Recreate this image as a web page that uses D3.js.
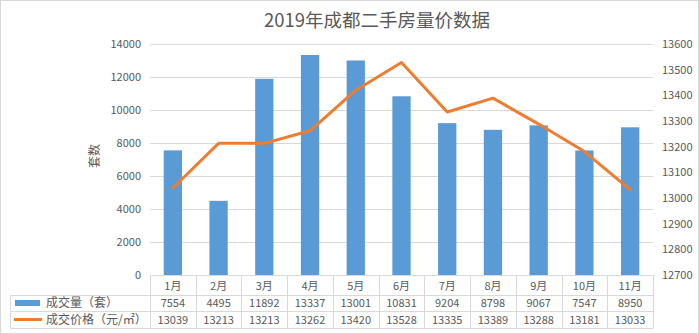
<!DOCTYPE html>
<html>
<head>
<meta charset="utf-8">
<script src="https://cdn.jsdelivr.net/npm/d3@7"></script>
<style>
  html, body { margin: 0; padding: 0; background: #fff; }
  svg { display: block; font-family: "Noto Sans CJK SC", "Noto Sans", sans-serif; }
</style>
</head>
<body>
<svg id="chart" width="699" height="334"></svg>
<script>
const months = ["1月","2月","3月","4月","5月","6月","7月","8月","9月","10月","11月"];
const volume = [7554, 4495, 11892, 13337, 13001, 10831, 9204, 8798, 9067, 7547, 8950];
const price = [13039, 13213, 13213, 13262, 13420, 13528, 13335, 13389, 13288, 13181, 13033];
const leftTicks = [0, 2000, 4000, 6000, 8000, 10000, 12000, 14000];
const rightTicks = [12700, 12800, 12900, 13000, 13100, 13200, 13300, 13400, 13500, 13600];
const seriesNames = ["成交量（套）", "成交价格（元/㎡）"];

const svg = d3.select("#chart");
const W = 699, H = 334;
const plot = { left: 150, right: 653, top: 44, bottom: 275 };
const textColor = "#595959";
const gridColor = "#d9d9d9";
const blue = "#5B9BD5", orange = "#ED7D31";

// outer frame
svg.append("rect").attr("x", 0.5).attr("y", 0.5).attr("width", W - 1).attr("height", H - 1)
  .attr("fill", "#fff").attr("stroke", "#d9d9d9");

const x = d3.scaleBand().domain(months).range([plot.left, plot.right]).paddingInner(0.6).paddingOuter(0.3);
const xCat = d3.scaleBand().domain(months).range([plot.left, plot.right]);
const yL = d3.scaleLinear().domain([0, 14000]).range([plot.bottom, plot.top]);
const yR = d3.scaleLinear().domain([12700, 13600]).range([plot.bottom, plot.top]);

// title
svg.append("text").attr("x", 377).attr("y", 27).attr("text-anchor", "middle")
  .attr("font-size", 18.5).attr("fill", textColor).text("2019年成都二手房量价数据");

// gridlines
svg.append("g").selectAll("line").data(leftTicks.slice(1)).join("line")
  .attr("x1", plot.left).attr("x2", plot.right)
  .attr("y1", d => Math.round(yL(d)) + 0.5).attr("y2", d => Math.round(yL(d)) + 0.5)
  .attr("stroke", gridColor);

// left axis
const gL = svg.append("g").attr("transform", `translate(${plot.left - 9},0)`)
  .call(d3.axisLeft(yL).tickValues(leftTicks).tickSize(0).tickPadding(0).tickFormat(d3.format("d")));
gL.select(".domain").remove();
gL.selectAll("text").attr("fill", textColor).attr("font-size", 11).attr("font-family", "'Noto Sans CJK SC', sans-serif");

// right axis
const gR = svg.append("g").attr("transform", `translate(${plot.right + 9},0)`)
  .call(d3.axisRight(yR).tickValues(rightTicks).tickSize(0).tickPadding(0).tickFormat(d3.format("d")));
gR.select(".domain").remove();
gR.selectAll("text").attr("fill", textColor).attr("font-size", 11).attr("font-family", "'Noto Sans CJK SC', sans-serif");

// left axis title
svg.append("text").attr("transform", "translate(99,156) rotate(-90)")
  .attr("text-anchor", "middle").attr("font-size", 12).attr("fill", textColor).text("套数");

// bars
svg.append("g").selectAll("rect").data(months).join("rect")
  .attr("x", d => x(d)).attr("width", x.bandwidth())
  .attr("y", (d, i) => yL(volume[i])).attr("height", (d, i) => plot.bottom - yL(volume[i]))
  .attr("fill", blue);

// price line
const line = d3.line().x((d, i) => xCat(months[i]) + xCat.bandwidth() / 2).y(d => yR(d));
svg.append("path").datum(price).attr("d", line)
  .attr("fill", "none").attr("stroke", orange).attr("stroke-width", 3).attr("stroke-linejoin", "round").attr("stroke-linecap", "round");

// data table
const rowH = 16.5;
const tTop = plot.bottom;
const tableLeft = 10;
const rows = [tTop, tTop + 19.5, tTop + 19.5 + rowH, tTop + 19.5 + 2 * rowH];
const tg = svg.append("g").attr("stroke", gridColor).attr("fill", "none");
// axis line
tg.append("line").attr("x1", plot.left).attr("x2", plot.right).attr("y1", tTop + 0.5).attr("y2", tTop + 0.5);
// horizontal row lines
rows.slice(1).forEach(yv => {
  tg.append("line").attr("x1", tableLeft).attr("x2", plot.right)
    .attr("y1", Math.round(yv) + 0.5).attr("y2", Math.round(yv) + 0.5);
});
// vertical lines
const bounds = months.map(m => xCat(m)).concat([plot.right]);
bounds.forEach(bx => {
  tg.append("line").attr("x1", Math.round(bx) + 0.5).attr("x2", Math.round(bx) + 0.5)
    .attr("y1", tTop).attr("y2", Math.round(rows[3]) + 0.5);
});
tg.append("line").attr("x1", tableLeft + 0.5).attr("x2", tableLeft + 0.5)
  .attr("y1", Math.round(rows[1]) + 0.5).attr("y2", Math.round(rows[3]) + 0.5);

// category labels
svg.append("g").selectAll("text").data(months).join("text")
  .attr("x", d => xCat(d) + xCat.bandwidth() / 2).attr("y", tTop + 14.5)
  .attr("text-anchor", "middle").attr("font-size", 11).attr("fill", textColor).text(d => d);

// value cells
[volume, price].forEach((arr, r) => {
  svg.append("g").selectAll("text").data(arr).join("text")
    .attr("x", (d, i) => xCat(months[i]) + xCat.bandwidth() / 2)
    .attr("y", rows[r + 1] + 12.5)
    .attr("text-anchor", "middle").attr("font-size", 11).attr("fill", textColor).text(d => d);
});

// legend keys + series names
svg.append("rect").attr("x", 15).attr("y", rows[1] + 5.5).attr("width", 25).attr("height", 6).attr("fill", blue);
svg.append("line").attr("x1", 14).attr("x2", 42).attr("y1", rows[2] + 8.5).attr("y2", rows[2] + 8.5)
  .attr("stroke", orange).attr("stroke-width", 3);
seriesNames.forEach((n, r) => {
  svg.append("text").attr("x", 46).attr("y", rows[r + 1] + 12.5)
    .attr("font-size", 12).attr("fill", textColor).text(n);
});
</script>
</body>
</html>
